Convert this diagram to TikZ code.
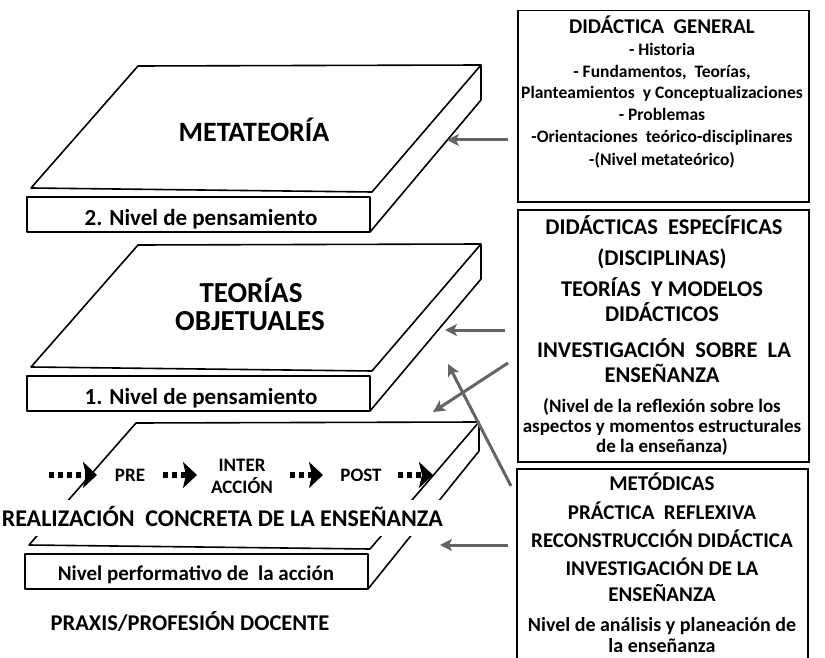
\documentclass[tikz,border=0pt]{standalone}
\usepackage{fontspec}
\setmainfont{Carlito}
\usetikzlibrary{arrows.meta}
\definecolor{arrowgray}{RGB}{100,100,100}
\newcommand\fsz[1]{\fontsize{#1pt}{#1pt}\selectfont\bfseries}
\newcommand\myslab[3]{%
  \begin{scope}[shift={(#1,#2)}]
    \filldraw[slabline,fill=white] (138,1) -- (481,0) -- (372,127) -- (31,123) -- cycle;
    \draw[slabline] (27,132) rectangle (370,167);
    \draw[slabline] (481,0) -- (481,#3) -- (370,167);
  \end{scope}}
\tikzset{
  slabline/.style={line width=1.6pt, line join=round},
  boxline/.style={line width=1.5pt},
  garrow/.style={draw=arrowgray, line width=3pt, -{Stealth[length=12pt,width=12pt,inset=3pt]}},
  procarrow/.style={line width=5.5pt, dash pattern=on 5pt off 4pt, -{Stealth[length=14pt,width=26pt,inset=3pt]}},
  txt/.style={anchor=base, inner sep=0pt},
}
\begin{document}
\begin{tikzpicture}[x=1pt,y=-1pt]
\useasboundingbox (0,0) rectangle (825,658);
\fill[white] (0,0) rectangle (825,658);

% slabs
\myslab{0}{65}{35}
\myslab{0}{244}{35}
\myslab{-2}{422}{29}

% slab labels
\node[txt, font=\fsz{28}] (meta) at (254,142) {METATEORÍA};
\node[txt, font=\fsz{23}] (niv2) at (201,225) {2. Nivel de pensamiento};
\node[txt, font=\fsz{29}] (teor) at (251,302) {TEORÍAS};
\node[txt, font=\fsz{29}] (obj) at (250,330) {OBJETUALES};
\node[txt, font=\fsz{23}] (niv1) at (201,404) {1. Nivel de pensamiento};
\node[txt, font=\fsz{21}] (perf) at (196,580) {Nivel performativo de\ \ la acción};
\node[txt, font=\fsz{22.5}] (praxis) at (190,630) {PRAXIS/PROFESIÓN DOCENTE};
\node[anchor=base east, inner xsep=1pt, inner ysep=0pt, fill=white, text height=26pt, text depth=10pt, font=\fsz{24}] (real) at (444,526) {REALIZACIÓN\ \ CONCRETA DE LA ENSEÑANZA};

% process row
\node[txt, font=\fsz{19}] (pre) at (130,481) {PRE};
\node[txt, font=\fsz{19}] (inter) at (242,471) {INTER};
\node[txt, font=\fsz{19}] (accion) at (242,493) {ACCIÓN};
\node[txt, font=\fsz{19}] (post) at (361,481) {POST};
\coordinate (pa0) at (49,475);  \coordinate (pa1) at (97,475);
\coordinate (pb0) at (163,475); \coordinate (pb1) at (197,475);
\coordinate (pc0) at (290,475); \coordinate (pc1) at (323,475);
\coordinate (pd0) at (398,475); \coordinate (pd1) at (433,475);
\draw[procarrow] (pa0) -- (pa1);
\draw[procarrow] (pb0) -- (pb1);
\draw[procarrow] (pc0) -- (pc1);
\draw[procarrow] (pd0) -- (pd1);

% right boxes
\node[draw, boxline, anchor=north west, minimum width=291pt, minimum height=191pt, inner sep=0pt] (box1) at (517,10) {};
\node[draw, boxline, anchor=north west, minimum width=291pt, minimum height=252pt, inner sep=0pt] (box2) at (517,209) {};
\draw[boxline] (517,668) -- (517,469) -- (808,469) -- (808,668);
\coordinate (box3) at (662,560);

\node[txt, font=\fsz{21}] (b1t) at (662,34) {DIDÁCTICA\ \ GENERAL};
\node[txt, font=\fsz{17.5}] (b1a) at (662,56) {- Historia};
\node[txt, font=\fsz{17.5}] (b1b) at (662,78) {- Fundamentos,\ \ Teorías,};
\node[txt, font=\fsz{17.5}] (b1c) at (662,99) {Planteamientos\ \ y Conceptualizaciones};
\node[txt, font=\fsz{17.5}] (b1d) at (662,121) {- Problemas};
\node[txt, font=\fsz{17.5}] (b1e) at (662,143) {-Orientaciones\ \ teórico-disciplinares};
\node[txt, font=\fsz{17.5}] (b1f) at (662,165) {-(Nivel metateórico)};

\node[txt, font=\fsz{22.5}] (b2a) at (664,234) {DIDÁCTICAS\ \ ESPECÍFICAS};
\node[txt, font=\fsz{22.5}] (b2b) at (662,265) {(DISCIPLINAS)};
\node[txt, font=\fsz{22.5}] (b2c) at (662,296) {TEORÍAS\ \ Y MODELOS};
\node[txt, font=\fsz{22.5}] (b2d) at (662,321) {DIDÁCTICOS};
\node[txt, font=\fsz{22.5}] (b2e) at (664,357) {INVESTIGACIÓN\ \ SOBRE\ \ LA};
\node[txt, font=\fsz{22.5}] (b2f) at (662,382) {ENSEÑANZA};
\node[txt, font=\fsz{19}] (b2g) at (662,412) {(Nivel de la reflexión sobre los};
\node[txt, font=\fsz{19}] (b2h) at (662,432) {aspectos y momentos estructurales};
\node[txt, font=\fsz{19}] (b2i) at (662,452) {de la enseñanza)};

\node[txt, font=\fsz{21}] (b3a) at (662,490) {METÓDICAS};
\node[txt, font=\fsz{21}] (b3b) at (662,519) {PRÁCTICA\ \ REFLEXIVA};
\node[txt, font=\fsz{21}] (b3c) at (662,547) {RECONSTRUCCIÓN DIDÁCTICA};
\node[txt, font=\fsz{21}] (b3d) at (662,575) {INVESTIGACIÓN DE LA};
\node[txt, font=\fsz{21}] (b3e) at (662,601) {ENSEÑANZA};
\node[txt, font=\fsz{20}] (b3f) at (662,631) {Nivel de análisis y planeación de};
\node[txt, font=\fsz{20}] (b3g) at (662,652) {la enseñanza};

% gray arrows
\coordinate (g1s) at (508,140); \coordinate (g1e) at (447,140);
\coordinate (g2s) at (505,330); \coordinate (g2e) at (445,330);
\coordinate (g3s) at (508,363); \coordinate (g3e) at (433,412);
\coordinate (g4s) at (511,486); \coordinate (g4e) at (448,364);
\coordinate (g5s) at (508,545); \coordinate (g5e) at (440,545);
\draw[garrow] (g1s) -- (g1e);
\draw[garrow] (g2s) -- (g2e);
\draw[garrow] (g3s) -- (g3e);
\draw[garrow] (g4s) -- (g4e);
\draw[garrow] (g5s) -- (g5e);
\end{tikzpicture}
\end{document}
